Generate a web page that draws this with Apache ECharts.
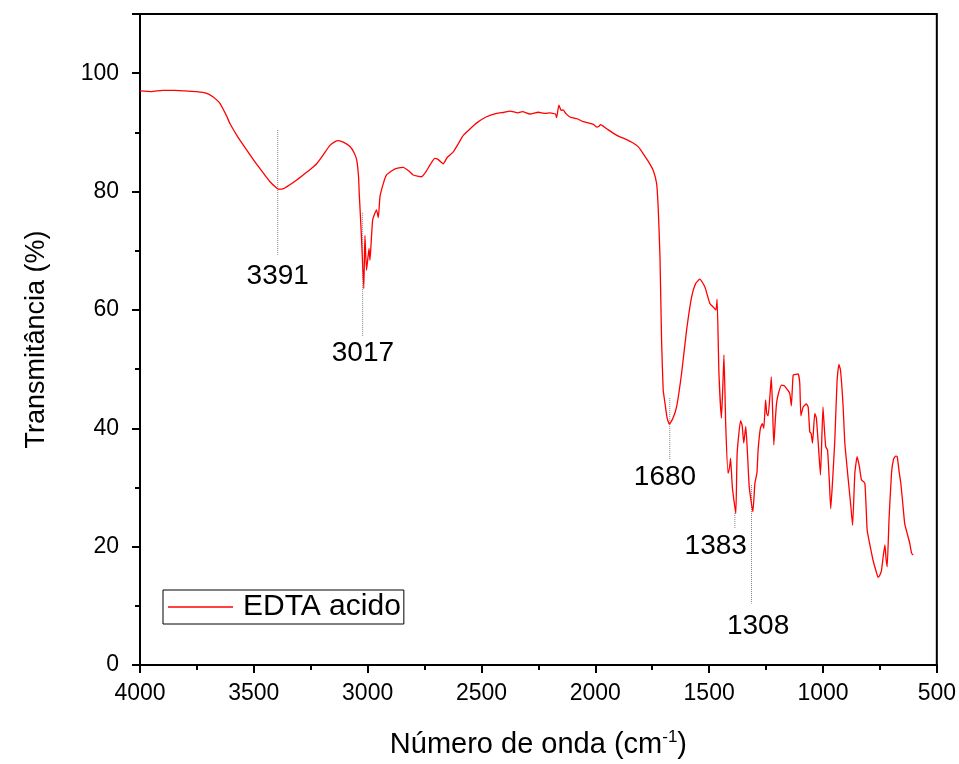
<!DOCTYPE html>
<html>
<head>
<meta charset="utf-8">
<script src="https://cdn.jsdelivr.net/npm/echarts@6/dist/echarts.min.js"></script>
<style>
  html, body { margin: 0; padding: 0; background: #fff; }
  #main { width: 959px; height: 764px; }
</style>
</head>
<body>
<div id="main"></div>
<script>
// espectro FTIR - EDTA acido
const wavenumber = [
  4000, 3950, 3900, 3850, 3800, 3750, 3707, 3680, 3649, 3620, 3605, 3570, 3531, 3495, 3458, 3430,
  3400, 3391, 3370, 3340, 3310, 3283, 3250, 3224, 3195, 3166, 3145, 3129, 3105, 3078, 3060, 3048,
  3040, 3037, 3030, 3026, 3017, 3012, 3005, 2994, 2990, 2978, 2961, 2953, 2946, 2930, 2917, 2890,
  2873, 2844, 2820, 2800, 2763, 2745, 2726, 2705, 2690, 2668, 2650, 2624, 2600, 2580, 2550, 2521,
  2480, 2434, 2400, 2375, 2340, 2320, 2287, 2250, 2220, 2199, 2175, 2170, 2160, 2150, 2141, 2130,
  2112, 2080, 2053, 2030, 2010, 1994, 1985, 1977, 1950, 1906, 1870, 1834, 1810, 1790, 1766, 1746,
  1731, 1724, 1716, 1709, 1702, 1695, 1685, 1675, 1660, 1643, 1621, 1599, 1577, 1560, 1541, 1519,
  1497, 1480, 1470, 1465, 1457, 1446, 1440, 1435, 1427, 1417, 1410, 1406, 1398, 1383, 1377, 1362,
  1355, 1348, 1339, 1330, 1324, 1308, 1299, 1290, 1285, 1275, 1266, 1260, 1252, 1247, 1241, 1232,
  1227, 1222, 1216, 1210, 1204, 1195, 1182, 1170, 1160, 1146, 1139, 1131, 1120, 1109, 1102, 1097,
  1087, 1073, 1065, 1058, 1052, 1046, 1036, 1029, 1020, 1011, 1000, 994, 988, 980, 972, 966,
  958, 948, 938, 930, 923, 912, 904, 889, 878, 870, 860, 850, 840, 831, 816, 806,
  795, 780, 765, 758, 750, 743, 735, 728, 723, 718, 710, 699, 690, 681, 674, 665,
  658, 650, 641, 630, 619, 611, 604
];
const transmittance = [
  97.0, 96.9, 97.1, 97.1, 97.0, 96.9, 96.6, 96.0, 94.9, 92.8, 91.5, 89.2, 87.0, 85.0, 83.1, 81.7,
  80.6, 80.4, 80.5, 81.2, 82.0, 82.8, 83.8, 84.7, 86.2, 87.8, 88.4, 88.6, 88.3, 87.6, 86.6, 85.3,
  82.5, 79.7, 74.5, 71.2, 63.6, 72.6, 66.7, 70.4, 68.4, 75.2, 76.9, 75.6, 79.1, 81.5, 82.8, 83.6,
  83.9, 84.1, 83.5, 82.8, 82.5, 83.3, 84.5, 85.6, 85.4, 84.7, 85.8, 86.7, 88.2, 89.5, 90.6, 91.6,
  92.6, 93.2, 93.4, 93.6, 93.3, 93.5, 93.1, 93.4, 93.2, 93.3, 93.1, 92.5, 94.6, 93.7, 93.8, 93.2,
  92.6, 92.3, 91.8, 91.6, 91.4, 90.9, 91.0, 91.3, 90.6, 89.5, 88.9, 88.2, 87.5, 86.4, 85.0, 83.6,
  81.4, 77.4, 69.0, 54.9, 46.5, 44.5, 41.8, 40.7, 41.6, 43.6, 49.3, 56.6, 62.2, 64.4, 65.2, 63.9,
  61.1, 60.4, 60.0, 61.8, 49.3, 41.7, 47.0, 52.4, 40.3, 32.4, 33.5, 34.9, 30.0, 25.6, 35.8, 41.3,
  40.5, 37.5, 40.3, 34.5, 30.1, 25.9, 30.7, 32.5, 36.3, 40.0, 40.8, 40.0, 44.8, 42.5, 42.1, 46.0,
  48.7, 44.0, 37.2, 41.0, 44.2, 46.0, 47.3, 47.2, 46.7, 45.9, 43.8, 49.0, 49.1, 49.2, 47.6, 42.1,
  43.6, 44.1, 43.6, 39.4, 39.1, 37.5, 42.5, 41.7, 37.0, 32.1, 43.6, 40.0, 36.9, 36.3, 31.0, 26.4,
  31.0, 38.0, 48.1, 50.8, 49.8, 44.0, 37.5, 31.3, 27.0, 23.6, 32.4, 35.2, 33.5, 31.3, 30.7, 22.8,
  20.5, 17.7, 15.6, 14.8, 15.2, 16.0, 18.5, 20.3, 18.0, 16.6, 24.5, 32.4, 34.8, 35.3, 35.2, 32.5,
  30.7, 27.5, 23.9, 22.2, 20.6, 18.9, 18.6
];

// picos marcados (linha pontilhada + rótulo)
const peakNames = ['3391', '3017', '1680', '1383', '1308'];
const peakWn = [3395, 3022, 1673, 1387, 1314];
const peakTop = [90.4, 76.4, 45.1, 25.7, 30.4];
const peakBottom = [69.3, 55.5, 34.6, 23.1, 10.4];
const labelWn = [3395, 3021, 1694, 1471, 1285];
const labelT = [65.6, 52.7, 31.8, 20.0, 6.5];

const xTicks = [500, 4000, 500];   // min, max, intervalo
const yTicks = [0, 110, 20];

const myChart = echarts.init(document.getElementById('main'));

const specData = wavenumber.map((w, i) => [w, transmittance[i]]);

let series = [{
  name: 'EDTA acido',
  type: 'line',
  data: specData,
  symbol: 'none',
  smooth: 0.15,
  lineStyle: { color: '#ff0000', width: 1.3 },
  itemStyle: { color: '#ff0000' },
  z: 3
}];

for (let i = 0; i < peakNames.length; i++) {
  series.push({
    type: 'line',
    data: [[peakWn[i], peakTop[i]], [peakWn[i], peakBottom[i]]],
    symbol: 'none',
    silent: true,
    lineStyle: { color: '#808080', width: 1, type: 'dotted' },
    z: 2
  });
}

series.push({
  type: 'scatter',
  data: labelWn.map((w, i) => ({ value: [w, labelT[i]], name: peakNames[i] })),
  symbolSize: 1,
  silent: true,
  itemStyle: { color: 'rgba(0,0,0,0)', opacity: 1 },
  label: {
    show: true,
    position: 'inside',
    formatter: p => p.name,
    color: '#000',
    textBorderWidth: 0,
    fontSize: 28,
    fontFamily: 'Liberation Sans'
  }
});

const option = {
  backgroundColor: '#fff',
  animation: false,
  textStyle: { fontFamily: 'Liberation Sans' },
  grid: {
    left: 140, right: 22, top: 14, bottom: 99,
    show: true, borderColor: '#000', borderWidth: 2
  },
  legend: {
    data: [{ name: 'EDTA acido', icon: 'rect' }],
    left: 163, top: 590,
    orient: 'vertical',
    itemWidth: 65, itemHeight: 1.5, itemGap: 0,
    padding: [2, 3, 2, 5],
    borderColor: '#000', borderWidth: 1,
    textStyle: { fontSize: 30, color: '#000', fontFamily: 'Liberation Sans', padding: [0, 0, 0, 5] }
  },
  xAxis: {
    type: 'value',
    inverse: true,
    min: xTicks[0], max: xTicks[1], interval: xTicks[2],
    name: '{t|Número de onda (cm}{s|-1}{t|)}',
    nameLocation: 'middle',
    nameGap: 64,
    nameTextStyle: {
      rich: {
        t: { fontSize: 29, color: '#000', fontFamily: 'Liberation Sans' },
        s: { fontSize: 17, color: '#000', fontFamily: 'Liberation Sans', verticalAlign: 'top', padding: [0, 0, 14, 0] }
      }
    },
    axisLine: { show: true, onZero: false, lineStyle: { color: '#000', width: 2 } },
    axisTick: { show: true, inside: false, length: 8, lineStyle: { width: 2, color: '#000' } },
    minorTick: { show: true, splitNumber: 2, length: 5, lineStyle: { width: 2, color: '#000' } },
    axisLabel: { fontSize: 23, color: '#000', margin: 17, fontFamily: 'Liberation Sans', formatter: v => String(v) },
    splitLine: { show: false }
  },
  yAxis: {
    type: 'value',
    min: yTicks[0], max: yTicks[1], interval: yTicks[2],
    name: 'Transmitância (%)',
    nameLocation: 'middle',
    nameGap: 90,
    nameTextStyle: { fontSize: 27, color: '#000', fontFamily: 'Liberation Sans' },
    axisLine: { show: true, lineStyle: { color: '#000', width: 2 } },
    axisTick: { show: true, inside: false, length: 8, lineStyle: { width: 2, color: '#000' } },
    minorTick: { show: true, splitNumber: 2, length: 5, lineStyle: { width: 2, color: '#000' } },
    axisLabel: {
      fontSize: 23, color: '#000', margin: 21, fontFamily: 'Liberation Sans',
      formatter: v => (v % 20 === 0 ? String(v) : '')
    },
    splitLine: { show: false }
  },
  series: series
};

myChart.setOption(option);
</script>
</body>
</html>
